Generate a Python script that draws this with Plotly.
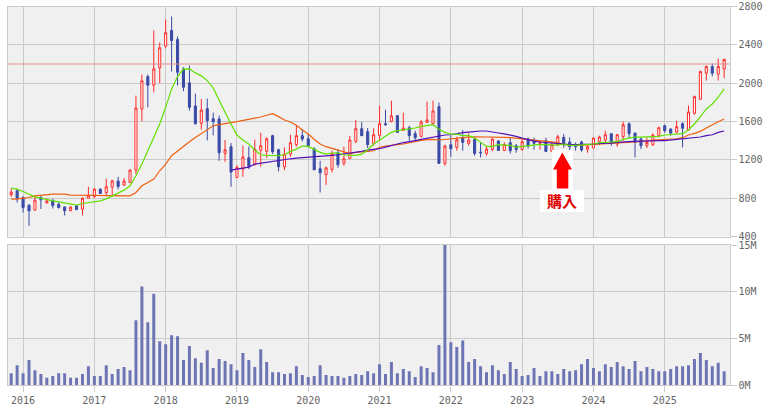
import plotly.graph_objects as go

W, H = 763, 407

months = [f"{2015 + (i + 10) // 12}-{(i + 10) % 12 + 1:02d}" for i in range(121)]

open_ = [835,877,807,727,675,807,751,772,737,709,671,720,685,800,814,894,859,915,978,936,964,1093,1731,2069,1978,2160,2386,2550,2456,2149,2003,1762,1581,1734,1630,1626,1267,1337,1016,1103,1222,
1152,1299,1288,1452,1305,1128,1260,1358,1452,1420,1316,1107,1047,1100,1274,1163,1215,1393,1525,1494,1368,1455,1577,1602,1661,1508,1535,1473,1445,1591,1577,1755,1163,1358,1330,1434,1372,1414,1281,1267,1309,1396,
1298,1379,1347,1309,1417,1403,1372,1400,1291,1358,1434,1386,1358,1386,1309,1323,1393,1407,1473,1365,1441,1577,1480,1417,1347,1358,1452,1556,1522,1490,1577,1511,1685,1832,2104,2173,2093,2146]
high = [901,894,821,737,828,824,800,793,755,709,720,723,807,919,905,905,1002,992,1023,1009,1103,1870,2090,2090,2550,2424,2665,2696,2487,2167,2184,1891,1835,1839,1692,1661,1407,1375,1145,1347,1340,
1410,1483,1434,1462,1316,1330,1462,1560,1522,1469,1330,1190,1128,1295,1312,1337,1448,1616,1595,1532,1529,1766,1724,1818,1668,1692,1556,1504,1616,1807,1818,1797,1358,1452,1441,1511,1476,1434,1379,1344,1424,1407,
1382,1434,1365,1414,1434,1431,1400,1431,1396,1462,1469,1434,1382,1400,1358,1431,1452,1504,1473,1469,1598,1591,1480,1434,1434,1476,1546,1567,1525,1609,1591,1766,1870,2132,2184,2205,2257,2257]
low = [814,755,650,511,675,688,744,692,692,619,661,675,619,800,807,849,824,824,894,932,964,1051,1602,1748,1905,1999,2365,2121,1975,1916,1713,1567,1515,1403,1455,1190,1180,918,1016,1023,1103,
1138,1128,1218,1260,1079,1093,1232,1337,1393,1330,1096,859,939,1068,1117,1138,1208,1372,1452,1323,1347,1407,1556,1591,1487,1504,1400,1389,1434,1591,1574,1163,1138,1232,1295,1295,1347,1243,1225,1243,1288,1295,
1295,1264,1274,1295,1319,1305,1305,1285,1285,1347,1326,1302,1295,1285,1274,1323,1354,1372,1347,1337,1400,1427,1225,1312,1323,1344,1434,1483,1452,1476,1330,1504,1672,1825,2027,2072,2027,2051]
close = [863,800,702,668,779,783,772,723,702,668,706,681,800,831,894,849,919,981,922,978,1093,1741,2024,1978,2149,2369,2526,2445,2114,1957,1748,1577,1720,1609,1598,1274,1305,1072,1120,1229,1131,
1312,1347,1420,1285,1128,1260,1379,1452,1417,1347,1096,1065,1117,1267,1149,1211,1407,1525,1452,1358,1462,1577,1567,1658,1487,1532,1452,1431,1595,1616,1710,1163,1344,1316,1410,1382,1407,1267,1274,1312,1417,1298,
1358,1295,1309,1389,1344,1372,1382,1288,1358,1441,1365,1337,1337,1302,1337,1427,1438,1462,1382,1462,1567,1473,1382,1347,1382,1459,1535,1504,1480,1546,1529,1699,1860,2121,2173,2104,2173,2247]

ma_green = [905,894,870,838,814,800,783,772,762,748,737,727,744,751,758,772,793,821,849,884,929,1034,1156,1295,1434,1574,1748,1940,2069,2146,2149,2107,2076,2027,1950,1818,1696,1574,1459,1407,1365,1302,
1253,1246,1246,1243,1253,1288,1312,1344,1340,1305,1278,1260,1271,1271,1253,1246,1246,1260,1305,1365,1407,1441,1487,1504,1511,1522,1532,1549,1556,1567,1518,1487,1469,1469,1452,1452,1427,1382,1340,1340,1358,
1354,1351,1333,1340,1347,1354,1361,1358,1354,1354,1365,1351,1351,1354,1358,1365,1379,1386,1386,1389,1414,1427,1438,1438,1438,1441,1445,1459,1466,1466,1473,1511,1574,1651,1731,1783,1853,1940]
ma_orange = [790,790,800,807,824,831,842,842,842,842,831,831,831,828,824,824,824,824,824,824,824,859,929,964,999,1086,1156,1243,1295,1347,1389,1434,1476,1522,1556,1567,1581,1588,1598,1609,1619,1633,
1647,1665,1682,1651,1616,1595,1560,1511,1469,1414,1365,1337,1319,1295,1278,1264,1278,1281,1288,1295,1330,1344,1354,1358,1365,1379,1389,1403,1410,1414,1407,1414,1417,1427,1434,1438,1441,1441,1441,1441,1441,
1434,1431,1424,1414,1407,1403,1393,1386,1382,1379,1358,1354,1354,1354,1358,1358,1365,1368,1368,1372,1379,1386,1389,1393,1396,1407,1410,1410,1414,1420,1431,1459,1476,1497,1532,1567,1598,1626]
ma_purple = [None]*37 + [1093,1103,1114,1124,1156,
1166,1176,1187,1197,1204,1211,1218,1222,1229,1232,1232,1239,1246,1253,1260,1271,1278,1288,1302,1309,1316,1333,1351,1365,1379,1386,1400,1414,1427,1438,1452,1459,1462,1476,1483,1490,1497,1501,1501,1494,1480,
1470,1459,1445,1427,1410,1396,1386,1379,1379,1368,1358,1358,1358,1358,1361,1365,1372,1372,1375,1382,1389,1389,1393,1396,1400,1400,1400,1400,1407,1407,1414,1424,1431,1438,1452,1462,1487,1501]

volume_m = [1.3,2.15,1.3,2.7,1.6,1.2,0.8,1.0,1.3,1.3,0.8,0.8,1.2,2.05,1.0,1.0,2.15,1.2,1.75,1.95,1.6,6.95,10.55,6.75,9.8,4.7,4.4,5.35,5.25,2.7,4.2,2.9,2.4,3.75,1.85,2.8,2.6,2.25,1.6,3.45,2.7,1.95,3.85,2.5,1.4,1.4,1.2,1.3,2.05,1.1,0.9,1.0,2.15,1.1,1.0,1.0,0.8,1.0,1.2,1.1,1.5,1.3,2.25,
1.2,2.5,1.3,1.75,1.5,0.9,2.05,1.85,1.4,4.3,15.0,4.6,4.1,4.8,2.5,2.8,2.05,1.4,2.15,1.6,1.2,2.5,1.75,1.0,1.1,1.85,1.0,1.5,1.5,1.2,1.75,1.5,1.6,2.25,2.8,1.85,1.5,2.25,1.95,2.5,2.05,1.75,2.6,1.5,1.95,1.75,1.5,1.5,1.75,2.05,2.05,2.15,2.8,3.45,2.7,2.05,2.4,1.5]

reference_level = 2200
price_ticks = [400, 800, 1200, 1600, 2000, 2400, 2800]
volume_ticks = [0, 5, 10, 15]
volume_tick_labels = ["0M", "5M", "10M", "15M"]
annotation_text = "購入"

idx = list(range(len(months)))
year_ticks = [i for i, m in enumerate(months) if m.endswith("-01")]
year_labels = [months[i][:4] for i in year_ticks]

GRID = "#cacaca"
TXT = "#666666"
FONT = dict(family="DejaVu Sans Mono", size=10, color=TXT)
X_RANGE = [-0.62, 120.9]

def px(x):
    return x / W

def py(y):
    return 1 - y / H

fig = go.Figure()
fig.add_trace(go.Candlestick(
    x=idx, open=open_, high=high, low=low, close=close, whiskerwidth=0,
    increasing=dict(line=dict(color="#ff2a2a", width=1), fillcolor="#ffffff"),
    decreasing=dict(line=dict(color="#3a4aa6", width=1), fillcolor="#3a4aa6"),
    xaxis="x", yaxis="y", showlegend=False, hoverinfo="skip"))
for vals, col in [(ma_orange, "#ee6010"), (ma_purple, "#5010b8"), (ma_green, "#5fe000")]:
    fig.add_trace(go.Scatter(x=idx, y=vals, mode="lines", line=dict(color=col, width=1.2),
                             xaxis="x", yaxis="y", showlegend=False, hoverinfo="skip"))
fig.add_trace(go.Bar(x=idx, y=volume_m, width=0.5, marker=dict(color="#6c74b4", line=dict(width=0)),
                     xaxis="x2", yaxis="y2", showlegend=False, hoverinfo="skip"))

axis_common = dict(showgrid=True, gridcolor=GRID, gridwidth=1, showline=True, linecolor=GRID,
                   linewidth=1, mirror=True, zeroline=False, automargin=False)
fig.update_layout(
    width=W, height=H, margin=dict(l=0, r=0, t=0, b=0), autosize=False,
    paper_bgcolor="#ffffff", plot_bgcolor="#f0f0f0", boxgap=0.5, bargap=0.5, showlegend=False,
    xaxis=dict(domain=[px(7.5), px(729.5)], range=X_RANGE, tickvals=year_ticks, showticklabels=False,
               anchor="y", rangeslider=dict(visible=False), ticks="", **axis_common),
    xaxis2=dict(domain=[px(7.5), px(729.5)], range=X_RANGE, tickvals=year_ticks, ticktext=year_labels,
                anchor="y2", ticks="outside", ticklen=6, tickcolor=GRID, tickfont=FONT, **axis_common),
    yaxis=dict(domain=[py(236.5), py(6.5)], range=[400, 2800], tickvals=price_ticks, side="right",
               anchor="x", ticks="outside", ticklen=6, tickcolor=GRID, tickfont=FONT, **axis_common),
    yaxis2=dict(domain=[py(385.3), py(245)], range=[0, 15], tickvals=volume_ticks, ticktext=volume_tick_labels,
                side="right", anchor="x2", ticks="outside", ticklen=6, tickcolor=GRID, tickfont=FONT, **axis_common),
    shapes=[
        dict(type="line", xref="x", yref="y", x0=X_RANGE[0], x1=X_RANGE[1], y0=reference_level, y1=reference_level,
             line=dict(color="#e88a8a", width=1), layer="above"),
        dict(type="rect", xref="paper", yref="paper", x0=px(552), x1=px(573), y0=py(190), y1=py(150),
             fillcolor="#ffffff", line=dict(width=0), layer="above"),
        dict(type="path", xref="paper", yref="paper", layer="above", fillcolor="#ff0000", line=dict(width=0),
             path=f"M {px(562.3)} {py(152.5)} L {px(572)} {py(169.5)} L {px(568.3)} {py(169.5)} L {px(568.3)} {py(188.5)} "
                  f"L {px(556.8)} {py(188.5)} L {px(556.8)} {py(169.5)} L {px(553)} {py(169.5)} Z"),
        dict(type="rect", xref="paper", yref="paper", x0=px(540), x1=px(584), y0=py(212), y1=py(190),
             fillcolor="#ffffff", line=dict(width=0), layer="above"),
    ],
    annotations=[dict(xref="paper", yref="paper", x=px(562), y=py(201), xanchor="center", yanchor="middle",
                      text=f"<b>{annotation_text}</b>", showarrow=False,
                      font=dict(family="Noto Sans CJK JP", size=15, color="#e00000"))],
)
fig.write_html("out.html", config=dict(displayModeBar=False), post_script="document.body.style.margin='0';")
